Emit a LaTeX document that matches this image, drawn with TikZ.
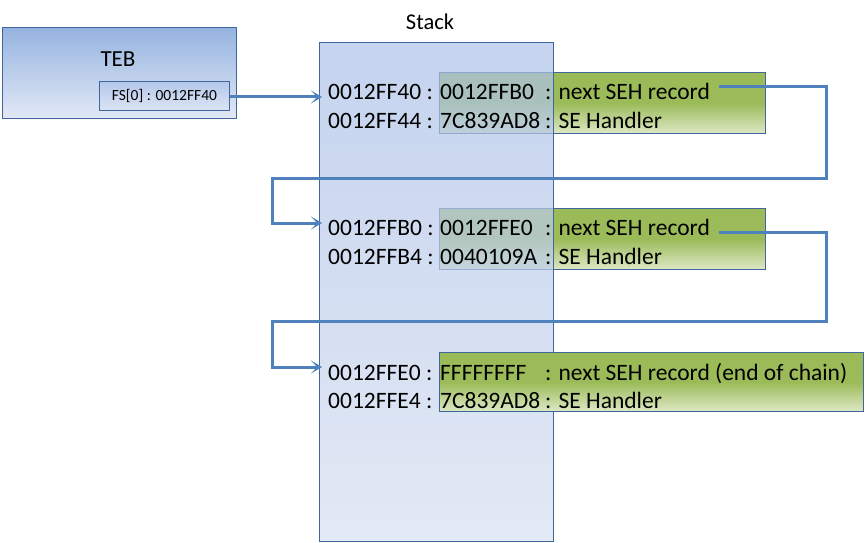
\documentclass[tikz,border=0pt]{standalone}
\usepackage{fontspec}
\setmainfont{Carlito}
\usetikzlibrary{arrows.meta}
\definecolor{edgeblue}{HTML}{41659E}
\definecolor{conn}{HTML}{4F81BD}
\definecolor{tebtop}{HTML}{95B3E0}
\definecolor{tebbot}{HTML}{E2E9F5}
\definecolor{fstop}{HTML}{B4C8EA}
\definecolor{fsbot}{HTML}{DCE4F3}
\definecolor{stacktop}{HTML}{ABC0E7}
\definecolor{stackbot}{HTML}{D7E0F1}
\definecolor{grn}{HTML}{9BBB59}
\definecolor{grnlight}{HTML}{DDE8C5}
\begin{document}
\begin{tikzpicture}[x=1pt,y=-1pt,
  box/.style={draw=edgeblue, line width=0.9pt, inner sep=0pt, anchor=north west},
  rec/.style={box, top color=grn, bottom color=grnlight, middle color=grn},
  txt/.style={inner sep=0pt, anchor=base west, font=\fontsize{23.5}{28}\selectfont},
  link/.style={draw=conn, line width=3pt, -{Stealth[length=11pt,width=13pt,inset=6pt]}}
]
\useasboundingbox (0,0) rectangle (868,543);
% records under the stack
\node[rec, minimum width=326pt, minimum height=61pt] (r1) at (439,72) {};
\node[rec, minimum width=326pt, minimum height=61pt] (r2) at (439,208) {};
% stack
\node[box, top color=stacktop, bottom color=stackbot, fill opacity=0.7, minimum width=234pt, minimum height=499pt] (stack) at (319,42) {};
\node[font=\fontsize{22.5}{26}\selectfont] (stacklbl) at (430,22) {Stack};
% record on top
\node[rec, minimum width=424pt, minimum height=59pt] (r3) at (439,352) {};
% TEB
\node[box, top color=tebtop, bottom color=tebbot, minimum width=234pt, minimum height=91pt] (teb) at (2,27) {};
\node[font=\fontsize{23}{27}\selectfont] (teblbl) at (118,59) {TEB};
\node[box, top color=fstop, bottom color=fsbot, minimum width=130pt, minimum height=29pt, font=\fontsize{15.5}{18}\selectfont] (fs) at (99,81) {FS[0] : 0012FF40};
% texts
\node[txt] (a1) at (328,99.5) {0012FF40 :};
\node[txt] (v1) at (440,99.5) {0012FFB0};
\node[txt] (d1) at (545,99.5) {: next SEH record};
\node[txt] (a1b) at (328,128.5) {0012FF44 :};
\node[txt] (v1b) at (440,128.5) {7C839AD8};
\node[txt] (d1b) at (545,128.5) {: SE Handler};
\node[txt] (a2) at (328,235.5) {0012FFB0 :};
\node[txt] (v2) at (440,235.5) {0012FFE0};
\node[txt] (d2) at (545,235.5) {: next SEH record};
\node[txt] (a2b) at (328,264.5) {0012FFB4 :};
\node[txt] (v2b) at (440,264.5) {0040109A};
\node[txt] (d2b) at (545,264.5) {: SE Handler};
\node[txt] (a3) at (328,380.5) {0012FFE0 :};
\node[txt] (v3) at (440,380.5) {FFFFFFFF};
\node[txt] (d3) at (545,380.5) {: next SEH record (end of chain)};
\node[txt] (a3b) at (328,408.5) {0012FFE4 :};
\node[txt] (v3b) at (440,408.5) {7C839AD8};
\node[txt] (d3b) at (545,408.5) {: SE Handler};
% connector anchors
\coordinate (s1) at (719,87);
\coordinate (s2) at (719,232);
\coordinate (t1) at (322,97);
\coordinate (t2) at (322,223);
\coordinate (t3) at (322,367);
% connectors
\draw[link] (fs.east |- t1) -- (t1);
\draw[link] (s1) -- (826,87) |- (272,178) |- (t2);
\draw[link] (s2) -- (826,232) |- (272,321) |- (t3);
\end{tikzpicture}
\end{document}
